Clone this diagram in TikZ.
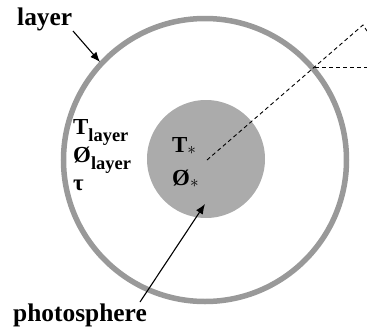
\documentclass[tikz,border=0pt]{standalone}
\usepackage{fontspec}
\setmainfont{Liberation Serif}
\usetikzlibrary{arrows.meta}
\definecolor{ringgray}{gray}{0.6}
\definecolor{diskgray}{gray}{0.67}
\tikzset{
  lbl/.style={font=\fontsize{25.5}{27}\selectfont\bfseries, inner sep=0pt, anchor=base west},
  sym/.style={font=\fontsize{23}{25}\selectfont\bfseries, inner sep=0pt, anchor=base west},
  pointer/.style={draw=black, line width=1.1bp, -{Latex[length=10bp,width=8bp]}},
  guide/.style={draw=black, line width=0.9bp, dash pattern=on 4bp off 3bp}
}
\begin{document}
\begin{tikzpicture}[x=1bp,y=-1bp]
\useasboundingbox (0,0) rectangle (367,329);
% photosphere disk
\fill[diskgray] (206,159) circle[radius=59];
% layer ring
\draw[ringgray, line width=5.5bp] (205,160) circle[radius=141.5];
% guide lines
\coordinate (c) at (207,160);
\coordinate (cross) at (315,67);
\coordinate (far) at (363,25);
\coordinate (farb) at (367,31);
\coordinate (hend) at (368,67);
\draw[guide] (c) -- (far) -- (farb);
\draw[guide] (cross) -- (hend);
% labels
\node[lbl] (layer) at (17,25) {layer};
\node[lbl] (photo) at (13,321) {photosphere};
\node[sym] (tl) at (73,134) {T\raisebox{-7bp}{\fontsize{18.5}{19}\selectfont layer}};
\node[sym] (pl) at (73,162) {Ø\raisebox{-7bp}{\fontsize{18.5}{19}\selectfont layer}};
\node[sym] (tau) at (73,190) {τ};
\node[sym] (ts) at (172,152) {T\raisebox{-2bp}{\fontsize{17}{17}\selectfont$\ast$}};
\node[sym] (ps) at (172,185) {Ø\raisebox{-2bp}{\fontsize{17}{17}\selectfont$\ast$}};
% arrows
\coordinate (ringpt) at (100,62);
\coordinate (diskpt) at (205,204);
\coordinate (layertail) at (73,31);
\coordinate (phototail) at (140,302);
\draw[pointer] (layertail) -- (ringpt);
\draw[pointer] (phototail) -- (diskpt);
\end{tikzpicture}
\end{document}
